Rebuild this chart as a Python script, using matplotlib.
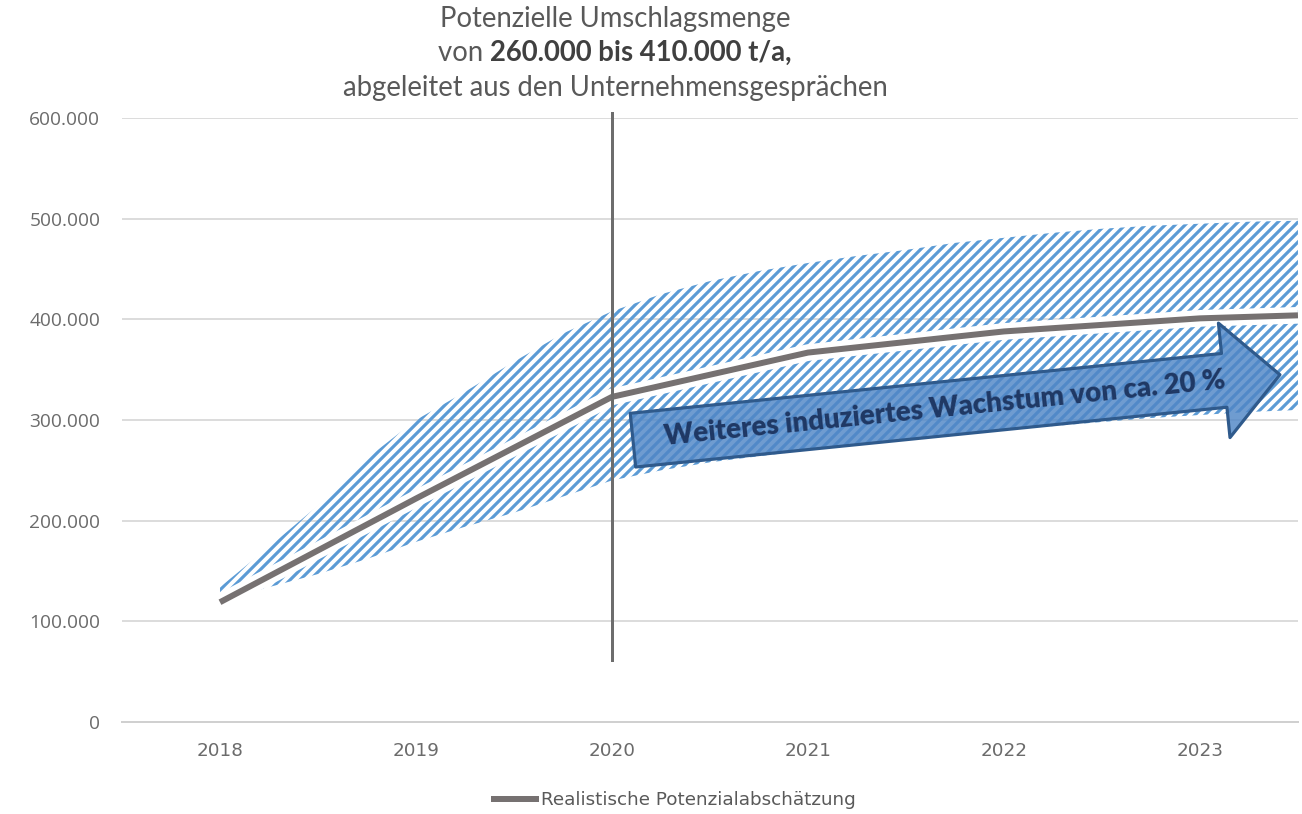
import numpy as np
import matplotlib.pyplot as plt
import matplotlib.patheffects as pe
from matplotlib.patches import FancyArrowPatch, ArrowStyle
from matplotlib.offsetbox import TextArea, HPacker, AnnotationBbox

# categories and values (t/a)
years = ['2018', '2019', '2020', '2021', '2022', '2023']
line_pos = [0, 1, 2, 3, 4, 5, 5.5]
line_values = [119000, 222000, 323000, 367000, 388000, 401000, 404000]

band_pos = [0, 0.25, 0.5, 0.75, 1.0, 1.25, 1.5, 1.75, 2.0, 2.25, 2.5, 2.75,
            3.0, 3.25, 3.5, 3.75, 4.0, 4.25, 4.5, 4.75, 5.0, 5.25, 5.5]
band_upper = [134000, 174000, 215000, 262000, 300000, 328000, 358000, 386000,
              408000, 425000, 438000, 448000, 456000, 463000, 469000, 476000,
              481000, 486000, 490000, 493000, 495000, 497000, 498000]
band_lower = [120000, 134000, 147000, 162000, 179000, 194000, 208000, 224000,
              240000, 250000, 258000, 264000, 270000, 276000, 281000, 286000,
              290000, 294000, 298000, 302000, 305000, 308000, 310000]

# growth arrow, from (category position, value) to tip
arrow_start = (2.107, 280000)
arrow_end = (5.408, 345000)
arrow_text = 'Weiteres induziertes Wachstum von ca. 20 %'

line_label = 'Realistische Potenzialabschätzung'

DPI = 120
plt.rcParams['hatch.linewidth'] = 1.9

fig = plt.figure(figsize=(1302 / DPI, 814 / DPI), dpi=DPI)
ax = fig.add_axes([0.0937, 0.1130, 0.9032, 0.7420])
ax.set_xlim(-0.5, 5.5)
ax.set_ylim(0, 600000)

# grid + axis styling
ax.set_yticks(np.arange(0, 600001, 100000))
ax.yaxis.grid(True, color='#d9d9d9', lw=1.1)
ax.set_axisbelow(True)
for s in ['top', 'left', 'right']:
    ax.spines[s].set_visible(False)
ax.spines['bottom'].set_color('#d0d0d0')
ax.spines['bottom'].set_linewidth(1.2)
ax.tick_params(length=0)
ax.tick_params(axis='y', pad=13)
ax.tick_params(axis='x', pad=12)
ax.set_yticklabels(['0' if v == 0 else f'{v:,.0f}'.replace(',', '.') for v in ax.get_yticks()],
                   family='Open Sans', fontsize=11.5, color='#6b6b6b')
ax.set_xticks(range(len(years)))
ax.set_xticklabels(years, family='DejaVu Sans', fontsize=11, color='#6b6b6b')

# hatched potential range
ax.fill_between(band_pos, band_lower, band_upper, facecolor='none',
                edgecolor='#5b9bd5', hatch='////', lw=0, zorder=2)

# realistic estimate with white halo
line, = ax.plot(line_pos, line_values, color='#767171', lw=3.6, zorder=4,
                solid_capstyle='butt', label=line_label,
                path_effects=[pe.Stroke(linewidth=10, foreground='white'), pe.Normal()])

# 2020 marker
ax.axvline(2, ymin=0.103, ymax=1.008, color='#6d6d6d', lw=1.8, zorder=5, clip_on=False)

# arrow
arrow = FancyArrowPatch(arrow_start, arrow_end,
                        arrowstyle=ArrowStyle.Simple(head_length=33.6, head_width=69, tail_width=32.4),
                        mutation_scale=1, shrinkA=0, shrinkB=0,
                        facecolor=(0.31, 0.525, 0.776, 0.82), edgecolor='#2f5a8c',
                        lw=1.9, zorder=6)
ax.add_patch(arrow)

p0 = ax.transData.transform(arrow_start)
p1 = ax.transData.transform(arrow_end)
angle = np.degrees(np.arctan2(p1[1] - p0[1], p1[0] - p0[0]))
tc = ax.transData.inverted().transform(p0 + 0.482 * (p1 - p0))
ax.text(tc[0], tc[1], arrow_text, rotation=angle, rotation_mode='anchor',
        ha='center', va='center', family='Lato', weight='heavy',
        fontsize=16.6, color='#1f3864', zorder=7)

# title
title_kw = dict(family='Lato', fontsize=16.5, color='#595959', ha='center', va='center')
fig.text(0.4724, 0.977, 'Potenzielle Umschlagsmenge', **title_kw)
fig.text(0.4724, 0.892, 'abgeleitet aus den Unternehmensgesprächen', **title_kw)
row = HPacker(children=[
    TextArea('von ', textprops=dict(family='Lato', fontsize=16.5, color='#595959')),
    TextArea('260.000 bis 410.000 t/a,', textprops=dict(family='Lato', fontsize=16.5,
                                                         weight='bold', color='#404040')),
], pad=0, sep=0, align='baseline')
fig.add_artist(AnnotationBbox(row, (0.4724, 0.935), xycoords='figure fraction',
                              frameon=False, box_alignment=(0.5, 0.5), pad=0))

ax.legend(handles=[line], loc='center', bbox_to_anchor=(0.517, 0.017),
          bbox_transform=fig.transFigure, frameon=False, handlelength=2.6,
          handletextpad=0.1, labelcolor='#595959',
          prop=dict(family='DejaVu Sans', size=11))

fig.savefig('out.png', dpi=DPI, facecolor='white')
